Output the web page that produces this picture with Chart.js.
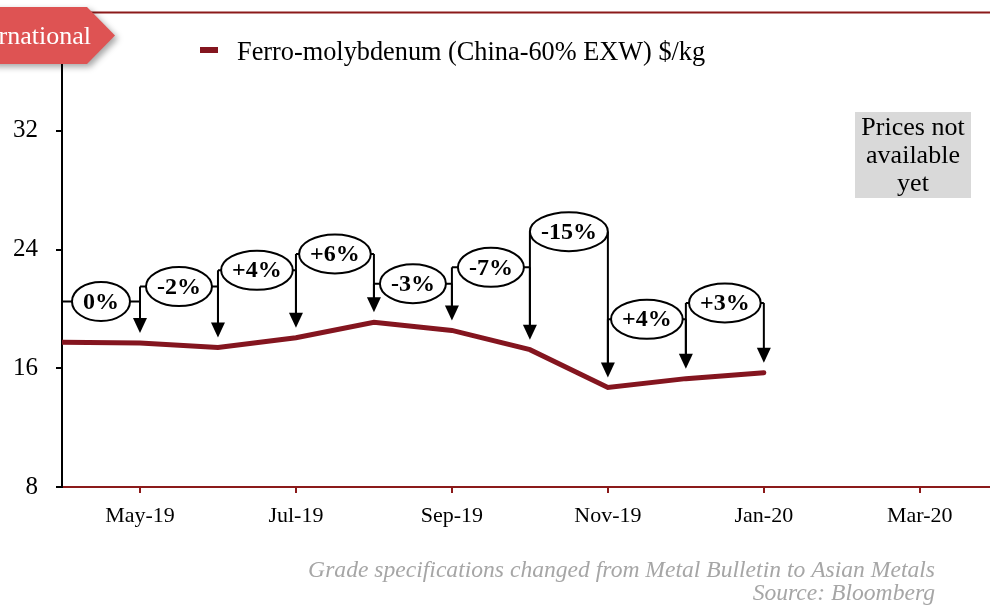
<!DOCTYPE html>
<html>
<head>
<meta charset="utf-8">
<title>Ferro-molybdenum</title>
<script src="https://cdn.jsdelivr.net/npm/chart.js@4.4.0/dist/chart.umd.min.js"></script>
<style>
  html, body { margin: 0; padding: 0; background: #fff; }
  #wrap { position: relative; width: 990px; height: 605px; overflow: hidden; }
</style>
</head>
<body>
<div id="wrap"><canvas id="grafico" width="990" height="605"></canvas></div>
<script>
// Meses do eixo X (índice 0 = Apr-19)
var meses = ['Apr-19', 'May-19', 'Jun-19', 'Jul-19', 'Aug-19', 'Sep-19', 'Oct-19', 'Nov-19', 'Dec-19', 'Jan-20', 'Feb-20', 'Mar-20'];
// Preços mensais ($/kg)
var precos = [17.75, 17.7, 17.4, 18.05, 19.1, 18.55, 17.25, 14.7, 15.3, 15.7];
// Variação de um mês para o outro
var variacoes = ['0%', '-2%', '+4%', '+6%', '-3%', '-7%', '-15%', '+4%', '+3%'];
// Altura (em $/kg) de cada balão
var alturaBalao = [20.5, 21.5, 22.6, 23.7, 21.7, 22.8, 25.2, 19.3, 20.4];
var ticksY = [8, 16, 24, 32];
var ticksX = [1, 3, 5, 7, 9, 11];
var nomeSerie = 'Ferro-molybdenum (China-60% EXW) $/kg';
var notas = ['Grade specifications changed from Metal Bulletin to Asian Metals', 'Source: Bloomberg'];
var textoCaixa = ['Prices not', 'available', 'yet'];
var etiqueta = 'International';

var corLinha = '#84151f';
var corEixo = '#8b1a1a';
var fonte = '"Liberation Serif", "Times New Roman", serif';

Chart.defaults.font.family = fonte;
Chart.defaults.color = '#000';

// Desenha os balões com as setas
var pluginBaloes = {
    id: 'baloes',
    afterDatasetsDraw: function(chart) {
        var ctx = chart.ctx;
        var xs = chart.scales.x;
        var ys = chart.scales.y;
        ctx.save();
        ctx.font = 'bold 24px ' + fonte;
        ctx.strokeStyle = '#000';
        ctx.fillStyle = '#000';
        ctx.lineWidth = 2;
        for (var i = 0; i < variacoes.length; i++) {
            var xa = xs.getPixelForValue(i);
            var xb = xs.getPixelForValue(i + 1);
            var yb = ys.getPixelForValue(alturaBalao[i]);
            var pontaA = ys.getPixelForValue(precos[i]) - 10;
            var pontaB = ys.getPixelForValue(precos[i + 1]) - 10;

            // linha horizontal
            ctx.beginPath();
            ctx.moveTo(xa, yb);
            ctx.lineTo(xb, yb);
            ctx.stroke();

            // elipse
            var w = Math.min(ctx.measureText(variacoes[i]).width + 22, xb - xa);
            ctx.beginPath();
            ctx.ellipse((xa + xb) / 2, yb, w / 2, 19.5, 0, 0, Math.PI * 2);
            ctx.fillStyle = '#fff';
            ctx.fill();
            ctx.stroke();

            // vertical da esquerda
            ctx.beginPath();
            ctx.moveTo(xa, yb);
            ctx.lineTo(xa, i === 0 ? pontaA : pontaA - 12);
            ctx.stroke();

            // seta da direita
            ctx.beginPath();
            ctx.moveTo(xb, yb);
            ctx.lineTo(xb, pontaB - 12);
            ctx.stroke();
            ctx.fillStyle = '#000';
            ctx.beginPath();
            ctx.moveTo(xb, pontaB);
            ctx.lineTo(xb - 7, pontaB - 15);
            ctx.lineTo(xb + 7, pontaB - 15);
            ctx.closePath();
            ctx.fill();

            // texto
            ctx.textAlign = 'center';
            ctx.textBaseline = 'middle';
            ctx.fillText(variacoes[i], (xa + xb) / 2, yb + 1);
        }
        ctx.restore();
    }
};

// Linha do topo, etiqueta, legenda, caixa e notas
var pluginExtras = {
    id: 'extras',
    afterDraw: function(chart) {
        var ctx = chart.ctx;
        var area = chart.chartArea;
        ctx.save();

        ctx.strokeStyle = corEixo;
        ctx.lineWidth = 2;
        ctx.beginPath();
        ctx.moveTo(area.left, area.top + 0.5);
        ctx.lineTo(chart.width, area.top + 0.5);
        ctx.stroke();

        // etiqueta vermelha
        ctx.save();
        ctx.shadowColor = 'rgba(0,0,0,0.35)';
        ctx.shadowBlur = 6;
        ctx.shadowOffsetX = 3;
        ctx.shadowOffsetY = 3;
        ctx.fillStyle = '#de5353';
        ctx.beginPath();
        ctx.moveTo(-10, 7);
        ctx.lineTo(87, 7);
        ctx.lineTo(115, 35.5);
        ctx.lineTo(87, 64);
        ctx.lineTo(-10, 64);
        ctx.closePath();
        ctx.fill();
        ctx.restore();
        ctx.fillStyle = '#fff';
        ctx.font = '26px ' + fonte;
        ctx.textAlign = 'right';
        ctx.textBaseline = 'alphabetic';
        ctx.fillText(etiqueta, 91, 44);

        // legenda
        ctx.fillStyle = corLinha;
        ctx.fillRect(200, 47, 18, 6);
        ctx.fillStyle = '#000';
        ctx.textAlign = 'left';
        ctx.font = '26.3px ' + fonte;
        ctx.fillText(nomeSerie, 237, 60);

        // caixa cinza
        ctx.fillStyle = '#d9d9d9';
        ctx.fillRect(855, 112, 116, 86);
        ctx.fillStyle = '#000';
        ctx.font = '26px ' + fonte;
        ctx.textAlign = 'center';
        ctx.textBaseline = 'middle';
        for (var i = 0; i < textoCaixa.length; i++) {
            ctx.fillText(textoCaixa[i], 913, 128 + i * 28);
        }

        // notas de rodapé
        ctx.fillStyle = '#a6a6a6';
        ctx.font = 'italic 23.6px ' + fonte;
        ctx.textAlign = 'right';
        for (var j = 0; j < notas.length; j++) {
            ctx.fillText(notas[j], 935, 571 + j * 23);
        }
        ctx.restore();
    }
};

var ctxGrafico = document.getElementById('grafico').getContext('2d');

var grafico = new Chart(ctxGrafico, {
    type: 'line',
    data: {
        datasets: [{
            label: nomeSerie,
            data: precos.map(function(v, i) { return { x: i, y: v }; }),
            borderColor: corLinha,
            backgroundColor: corLinha,
            borderWidth: 5,
            borderCapStyle: 'round',
            pointRadius: 0,
            tension: 0,
            fill: false
        }]
    },
    options: {
        responsive: false,
        animation: false,
        layout: { padding: { top: 12, left: 0, right: 0, bottom: 0 } },
        plugins: {
            legend: { display: false },
            tooltip: { enabled: false }
        },
        scales: {
            x: {
                type: 'linear',
                min: 0,
                max: 11.9,
                afterBuildTicks: function(s) { s.ticks = ticksX.map(function(v) { return { value: v }; }); },
                afterFit: function(s) { s.height = 118; s.paddingLeft = 0; s.paddingRight = 0; },
                border: { color: corEixo, width: 2 },
                grid: { drawOnChartArea: false, color: corEixo, tickLength: 6, lineWidth: 2 },
                ticks: {
                    callback: function(v) { return meses[v]; },
                    font: { size: 22 },
                    color: '#000',
                    padding: 10,
                    maxRotation: 0,
                    autoSkip: false
                }
            },
            y: {
                min: 8,
                max: 40,
                afterBuildTicks: function(s) { s.ticks = ticksY.map(function(v) { return { value: v }; }); },
                afterFit: function(s) { s.width = 62; s.paddingTop = 0; s.paddingBottom = 0; },
                border: { color: '#000', width: 2 },
                grid: { drawOnChartArea: false, color: '#000', tickLength: 6, lineWidth: 2 },
                ticks: { font: { size: 25 }, color: '#000', padding: 18 }
            }
        }
    },
    plugins: [pluginBaloes, pluginExtras]
});
</script>
</body>
</html>
